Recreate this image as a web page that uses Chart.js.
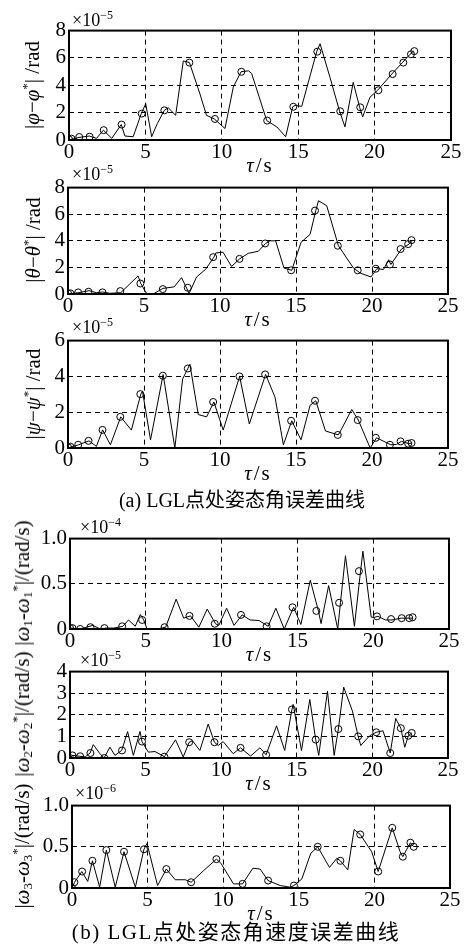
<!DOCTYPE html>
<html>
<head>
<meta charset="utf-8">
<script src="https://cdn.jsdelivr.net/npm/chart.js@4.4.1/dist/chart.umd.min.js"></script>
<style>
  body { margin: 0; background: #fff; }
  #page { position: relative; width: 470px; height: 948px; overflow: hidden;
          font-family: "Liberation Serif", "Times New Roman", serif; color: #000; }
  canvas { position: absolute; left: 0; }
  .ytitle { position: absolute; white-space: nowrap; line-height: 1; font-size: 21px;
            transform: translate(-50%, -50%) rotate(-90deg); }
  .ytitle sup { font-size: 13px; vertical-align: 8px; }
  .ytitle sub { font-size: 13px; vertical-align: -3px; }
  .exp { position: absolute; font-size: 18px; line-height: 1; white-space: nowrap; }
  .exp sup { font-size: 12px; vertical-align: 7px; }
  .tau { position: absolute; font-size: 21px; line-height: 1; transform: translateX(-50%);
         white-space: nowrap; letter-spacing: 2px; }
  .cap { position: absolute; line-height: 1; transform: translateX(-50%); white-space: nowrap;
         font-family: "Liberation Serif", "Noto Sans CJK SC", serif; }
</style>
</head>
<body>
<div id="page"></div>
<script>
// LGL node times (s), shared by all panels
const tauLGL = [0, 0.16, 0.67, 1.35, 2.27, 3.44, 4.76, 6.24, 7.88, 9.55, 11.28, 12.97,
                14.68, 16.25, 17.75, 19.06, 20.25, 21.18, 21.88, 22.38, 22.6];

// (a) attitude angle errors, x1e-5 rad
const phiLGL = [0.05, 0.1, 0.22, 0.24, 0.72, 1.13, 1.93, 2.17, 5.66, 1.54, 4.99, 1.42,
                2.43, 6.46, 2.1, 2.39, 3.64, 4.82, 5.66, 6.27, 6.5];
const phiLineT = [0, 0.65, 1.33, 1.8, 2.25, 2.8, 3.42, 3.66, 4.2, 4.73, 5.02, 5.41, 5.78, 6.24,
                  6.5, 6.98, 7.48, 7.88, 8.57, 9.0, 9.51, 10.21, 10.75, 11.26, 11.74, 11.95,
                  12.94, 13.6, 14.18, 14.64, 14.79, 15.23, 16.21, 16.43, 17.08, 17.71, 18.06,
                  18.6, 19.02, 19.22, 19.7, 20.2, 21.12, 21.82, 22.32, 22.56];
const phiLineV = [0, 0.19, 0.29, 0.12, 0.72, 0.12, 1.13, 0.29, 0.24, 1.93, 2.65, 0.24, 1.2, 2.17,
                  2.36, 1.8, 5.78, 5.66, 3.37, 1.8, 1.54, 0.84, 3.86, 4.99, 5.06, 4.87,
                  1.42, 0.96, 0.24, 2.43, 2.53, 2.46, 6.46, 7.04, 4.58, 2.1, 0.96,
                  4.22, 2.39, 1.69, 3.13, 3.64, 4.82, 5.66, 6.27, 6.5];

const thetaLGL = [0.05, 0.05, 0.12, 0.17, 0.12, 0.22, 0.79, 0.37, 0.47, 2.77, 2.64, 3.8,
                  1.78, 6.27, 3.63, 1.78, 1.9, 2.22, 3.38, 3.75, 4.05];
const thetaLineT = [0, 0.7, 1.38, 1.87, 2.28, 2.75, 3.47, 4.61, 4.79, 5.16, 5.6, 6.24, 6.99, 7.47,
                    7.97, 8.46, 9.05, 9.6, 9.73, 10.2, 10.76, 11.29, 11.86, 12.52, 13.0, 13.29,
                    13.66, 14.21, 14.72, 15.33, 15.93, 16.3, 16.48, 17.02, 17.79, 18.78, 19.22,
                    19.93, 20.32, 20.76, 21.09, 21.24, 21.94, 22.43, 22.65];
const thetaLineV = [0, 0.1, 0.25, 0.1, 0.15, 0.05, 0.1, 1.36, 0.79, 0.05, 0, 0.42, 0.54, 1.23,
                    0.05, 1.28, 1.85, 2.77, 3.09, 3.14, 2.07, 2.64, 3.06, 3.21, 3.8, 4.0,
                    4.0, 1.95, 1.78, 3.88, 4.49, 6.27, 7.01, 6.64, 3.63, 1.95, 1.58,
                    1.28, 1.9, 1.85, 2.57, 2.22, 3.38, 3.75, 4.05];

const psiLGL = [0.04, 0.07, 0.18, 0.4, 1.01, 1.74, 3.01, 4.04, 4.44, 2.57, 4.0, 4.11,
                1.52, 2.64, 0.73, 1.56, 0.57, 0.18, 0.37, 0.24, 0.28];
const psiLineT = [0, 0.7, 1.38, 1.87, 2.28, 2.79, 3.47, 4.17, 4.79, 4.9, 5.43, 6.26, 7.03, 7.54,
                  8.02, 8.57, 9.12, 9.6, 10.21, 11.29, 11.93, 13.0, 13.62, 14.17, 14.72, 15.33,
                  15.93, 16.3, 16.94, 17.79, 18.67, 19.1, 19.88, 20.3, 21.24, 21.6, 21.94,
                  22.43, 22.65];
const psiLineV = [0, 0.18, 0.4, 0.09, 1.01, 0.18, 1.74, 1.0, 3.01, 3.17, 0.46, 4.1, 0, 3.85,
                  4.68, 1.87, 1.74, 2.57, 1.0, 4.0, 1.34, 4.11, 2.84, 0.18, 1.52, 0.46,
                  2.39, 2.64, 0.95, 0.73, 2.15, 1.56, 0, 0.57, 0.18, 0.2, 0.37,
                  0.24, 0.28];

// (b) angular rate errors
const w1LGL = [0.01, 0.01, 0.0, 0.02, 0.01, 0.03, 0.1, 0.02, 0.145, 0.058, 0.156, 0.03,
               0.24, 0.2, 0.29, 0.64, 0.14, 0.11, 0.12, 0.12, 0.13];
const w1LineT = [0, 0.66, 1.5, 1.99, 2.36, 2.87, 3.49, 3.86, 4.3, 4.64, 4.86, 5.08, 5.74, 6.31,
                 7.0, 7.5, 7.95, 8.5, 9.05, 9.6, 9.82, 10.33, 10.82, 11.35, 11.88, 12.47,
                 13.07, 13.58, 14.13, 14.75, 15.23, 15.85, 16.4, 16.56, 17.06, 17.66, 17.84,
                 18.17, 18.76, 19.16, 19.32, 19.87, 20.09, 20.31, 20.8, 21.24, 21.85, 22.4, 22.6];
const w1LineV = [0.01, 0, 0.04, 0, 0.01, 0.01, 0.03, 0.1, 0.03, 0.16, 0.1, 0, 0, 0.02,
                 0.33, 0.12, 0.145, 0.02, 0.22, 0.058, 0.04, 0.23, 0.04, 0.156, 0.1, 0.094,
                 0.03, 0.23, 0, 0.24, 0.05, 0.54, 0.19, 0.06, 0.48, 0, 0.29,
                 0.81, 0.03, 0.63, 0.86, 0.13, 0.13, 0.14, 0.1, 0.1, 0.12, 0.12, 0.12];

const w2LGL = [0.0, 0.12, 0.08, 0.23, 0.0, 0.35, 0.76, 0.06, 0.73, 0.73, 0.47, 0.15,
               2.25, 0.85, 1.34, 1.0, 1.19, 0.23, 1.38, 1.03, 1.16];
const w2LineT = [0, 0.17, 0.65, 1.0, 1.33, 1.54, 1.98, 2.25, 2.64, 2.97, 3.42, 3.81, 4.19, 4.63,
                 4.76, 5.18, 5.62, 6.24, 6.98, 7.49, 7.88, 8.1, 8.59, 9.14, 9.55, 9.8, 10.13,
                 10.79, 11.28, 11.94, 12.56, 12.97, 13.66, 14.2, 14.68, 14.76, 15.31, 15.86,
                 16.25, 16.45, 17.03, 17.47, 17.75, 18.1, 18.68, 19.06, 19.23, 19.82, 20.25,
                 20.7, 21.18, 21.54, 21.88, 22.14, 22.38, 22.6];
const w2LineV = [0, 0.12, 0.08, 0.05, 0.23, 0.62, 0.2, 0, 0.5, 0.12, 0.35, 1.22, 0.12, 1.23,
                 0.76, 0.27, 0.3, 0.06, 0.84, 0.05, 0.73, 0.8, 0.35, 1.57, 0.73, 0.58, 0.76,
                 0.2, 0.47, 0.09, 0.47, 0.15, 1.49, 0.35, 2.25, 2.48, 0.35, 2.71,
                 0.85, 0.12, 3.09, 0.12, 1.34, 3.28, 2.17, 1.0, 0.58, 1.03, 1.19,
                 1.26, 0.23, 1.83, 1.38, 0.5, 1.03, 1.16];

const w3LGL = [0, 0.07, 0.2, 0.33, 0.46, 0.44, 0.47, 0.23, 0.07, 0.35, 0.05, 0.09,
               0.03, 0.5, 0.33, 0.65, 0.2, 0.73, 0.38, 0.55, 0.5];
const w3LineT = [0, 0.17, 0.65, 1.04, 1.35, 1.83, 2.27, 2.86, 3.44, 4.19, 4.76, 4.96, 5.66, 6.24,
                 6.83, 7.49, 7.88, 8.7, 9.55, 9.85, 10.68, 11.28, 11.96, 12.44, 12.97, 13.77,
                 14.43, 14.68, 15.2, 15.79, 16.25, 17.03, 17.51, 17.75, 18.24, 18.66, 19.06,
                 19.82, 20.25, 21.18, 21.7, 21.88, 22.38, 22.6];
const w3LineV = [0, 0.07, 0.2, 0.08, 0.33, 0.01, 0.46, 0.01, 0.44, 0.01, 0.47, 0.54, 0.03, 0.23,
                 0.1, 0.1, 0.07, 0.21, 0.35, 0.3, 0.05, 0.05, 0.24, 0.23, 0.09, 0.03,
                 0.01, 0.03, 0.11, 0.42, 0.5, 0.25, 0.36, 0.33, 0.22, 0.71, 0.65,
                 0.44, 0.2, 0.73, 0.44, 0.38, 0.55, 0.5];

const xTicks = [0, 5, 10, 15, 20, 25];

const page = document.getElementById('page');
Chart.defaults.font.family = '"Liberation Serif", "Times New Roman", serif';
Chart.defaults.color = '#000';

function pts(t, v) {
  return t.map((x, i) => ({ x: x, y: v[i] }));
}

const intLabel = v => String(v);
const decLabel = v => (v === 0 ? '0' : v.toFixed(1));

const panels = [
  { left: 69, right: 451, top: 29, bottom: 140, ymax: 8, step: 2, fmt: intLabel,
    lineT: phiLineT, lineV: phiLineV, lgl: phiLGL, exp: '−5', expX: 72, expBase: 25, titleX: 31,
    title: '|<i>φ</i>−<i>φ</i><sup>*</sup>| /rad' },
  { left: 68, right: 448, top: 186, bottom: 294, ymax: 8, step: 2, fmt: intLabel,
    lineT: thetaLineT, lineV: thetaLineV, lgl: thetaLGL, exp: '−5', expX: 72, expBase: 179, titleX: 32,
    title: '|<i>θ</i>−<i>θ</i><sup>*</sup>| /rad' },
  { left: 68, right: 448, top: 339, bottom: 448, ymax: 6, step: 2, fmt: intLabel,
    lineT: psiLineT, lineV: psiLineV, lgl: psiLGL, exp: '−5', expX: 72, expBase: 332, titleX: 32,
    title: '|<i>ψ</i>−<i>ψ</i><sup>*</sup>| /rad' },
  { left: 70, right: 449, top: 537, bottom: 629, ymax: 1, step: 0.5, fmt: decLabel,
    lineT: w1LineT, lineV: w1LineV, lgl: w1LGL, exp: '−4', expX: 80, expBase: 532, titleX: 22,
    title: '|<i>ω</i><sub>1</sub>-<i>ω</i><sub>1</sub><sup>*</sup>|/(rad/s)' },
  { left: 70, right: 448, top: 670, bottom: 758, ymax: 4, step: 1, fmt: intLabel,
    lineT: w2LineT, lineV: w2LineV, lgl: w2LGL, exp: '−5', expX: 80, expBase: 665, titleX: 22,
    title: '|<i>ω</i><sub>2</sub>-<i>ω</i><sub>2</sub><sup>*</sup>|/(rad/s)' },
  { left: 72, right: 450, top: 804, bottom: 888, ymax: 1, step: 0.5, fmt: decLabel,
    lineT: w3LineT, lineV: w3LineV, lgl: w3LGL, exp: '−6', expX: 75, expBase: 798, titleX: 22,
    title: '|<i>ω</i><sub>3</sub>-<i>ω</i><sub>3</sub><sup>*</sup>|/(rad/s)' }
];

// black box around the plot area
const framePlugin = {
  id: 'frame',
  afterDraw(chart) {
    const a = chart.chartArea;
    const ctx = chart.ctx;
    ctx.save();
    ctx.lineWidth = 2;
    ctx.strokeStyle = '#000';
    ctx.strokeRect(a.left, a.top, a.right - a.left, a.bottom - a.top);
    ctx.restore();
  }
};

const PAD_TOP = 14;
const AXIS_H = 30;

function addHtml(cls, html, style) {
  const d = document.createElement('div');
  d.className = cls;
  d.innerHTML = html;
  Object.assign(d.style, style);
  page.appendChild(d);
  return d;
}

function makePanel(p) {
  const c = document.createElement('canvas');
  const h = p.bottom - p.top + PAD_TOP + AXIS_H;
  c.width = 470;
  c.height = h;
  c.style.top = (p.top - PAD_TOP) + 'px';
  c.style.width = '470px';
  c.style.height = h + 'px';
  page.appendChild(c);

  const gridOpts = { color: '#000', lineWidth: 1, drawTicks: false };

  new Chart(c, {
    type: 'line',
    data: {
      datasets: [
        { type: 'line', data: pts(p.lineT, p.lineV), borderColor: '#000', borderWidth: 1,
          pointRadius: 0, tension: 0, fill: false },
        { type: 'scatter', data: pts(tauLGL, p.lgl), borderColor: '#000', borderWidth: 1,
          backgroundColor: 'rgba(0,0,0,0)', pointRadius: 3.5, pointHoverRadius: 3.5 }
      ]
    },
    options: {
      responsive: false,
      animation: false,
      devicePixelRatio: 1,
      events: [],
      layout: { padding: { top: PAD_TOP, right: 470 - p.right, left: 0, bottom: 0 } },
      plugins: { legend: { display: false }, tooltip: { enabled: false } },
      scales: {
        x: {
          type: 'linear', min: 0, max: 25,
          afterFit(s) { s.height = AXIS_H; },
          afterBuildTicks(s) { s.ticks = xTicks.map(v => ({ value: v })); },
          ticks: { color: '#000', font: { size: 21 }, padding: 0, maxRotation: 0, autoSkip: false },
          grid: gridOpts,
          border: { display: false, dash: [5, 4] }
        },
        y: {
          type: 'linear', min: 0, max: p.ymax,
          afterFit(s) { s.width = p.left; },
          ticks: { stepSize: p.step, color: '#000', font: { size: 21 }, padding: 3,
                   autoSkip: false, callback: p.fmt },
          grid: gridOpts,
          border: { display: false, dash: [5, 4] }
        }
      }
    },
    plugins: [framePlugin]
  });

  addHtml('exp', '×10<sup>' + p.exp + '</sup>', { left: p.expX + 'px', top: (p.expBase - 16) + 'px' });
  addHtml('ytitle', p.title, { left: p.titleX + 'px', top: ((p.top + p.bottom) / 2) + 'px' });
  addHtml('tau', '<i>τ</i>/s', { left: ((p.left + p.right) / 2) + 'px', top: (p.bottom + 15) + 'px' });
}

panels.forEach(makePanel);

addHtml('cap', '(a) LGL点处姿态角误差曲线', { left: '242px', top: '490px', fontSize: '20px' });
addHtml('cap', '(b) LGL点处姿态角速度误差曲线',
        { left: '236px', top: '922px', fontSize: '21px', letterSpacing: '1.5px' });
</script>
</body>
</html>
